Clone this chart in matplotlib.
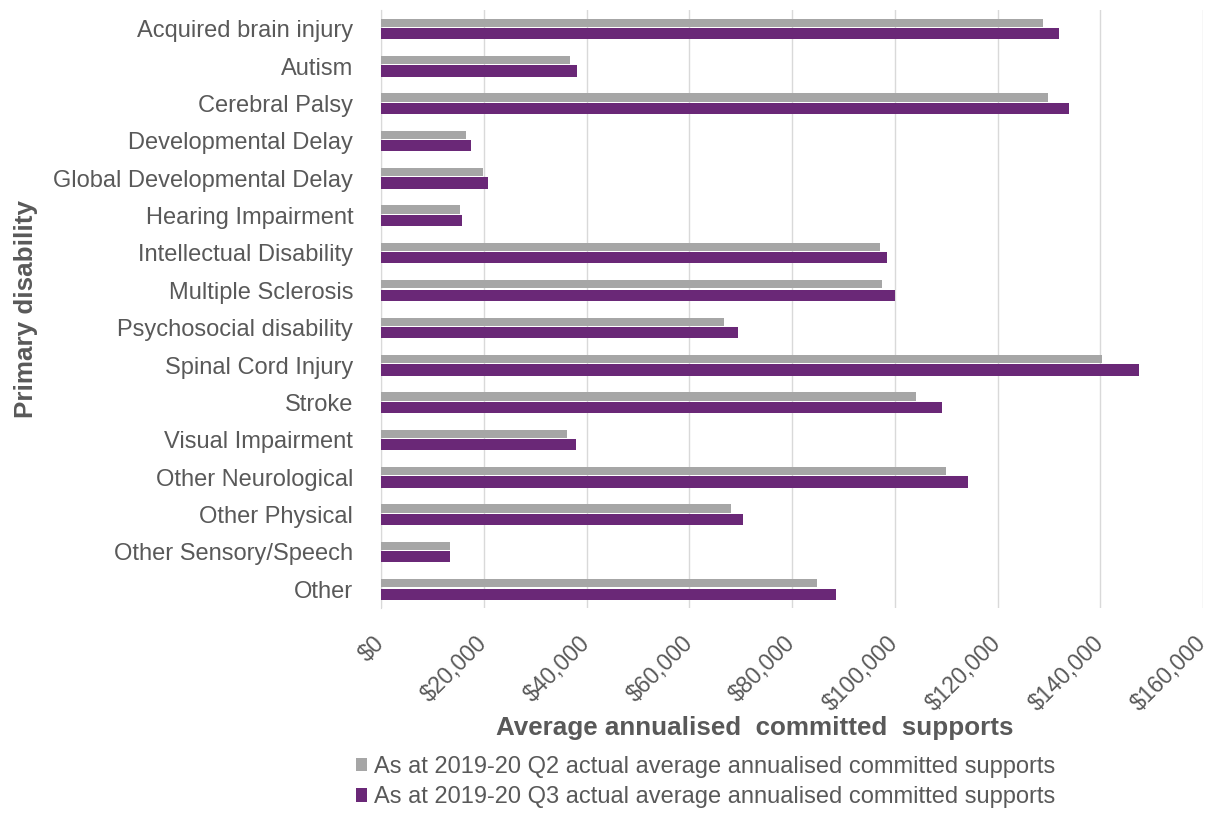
import matplotlib
matplotlib.use("Agg")
import matplotlib.pyplot as plt
import numpy as np
from matplotlib.ticker import FuncFormatter

categories = ["Acquired brain injury", "Autism", "Cerebral Palsy", "Developmental Delay",
              "Global Developmental Delay", "Hearing Impairment", "Intellectual Disability",
              "Multiple Sclerosis", "Psychosocial disability", "Spinal Cord Injury", "Stroke",
              "Visual Impairment", "Other Neurological", "Other Physical",
              "Other Sensory/Speech", "Other"]
q2_values = [128900, 36800, 129900, 16500, 19900, 15400, 97200, 97600, 66700, 140400,
             104200, 36200, 110000, 68100, 13400, 84900]
q3_values = [132000, 38200, 134000, 17500, 20800, 15800, 98500, 100100, 69500, 147500,
             109200, 38000, 114300, 70500, 13500, 88500]
series_labels = ["As at 2019-20 Q2 actual average annualised committed supports",
                 "As at 2019-20 Q3 actual average annualised committed supports"]
x_ticks = [0, 20000, 40000, 60000, 80000, 100000, 120000, 140000, 160000]

plt.rcParams['font.family'] = ['Liberation Sans', 'DejaVu Sans']
GRAY = '#A6A6A6'
PURPLE = '#6A2877'
TXT = '#595959'

fig = plt.figure(figsize=(12.1, 8.18), dpi=100)
ax = fig.add_axes([381/1210, 1-608/818, (1203-381)/1210, (608-10)/818])

y = np.arange(len(categories))
ax.barh(y - 0.16, q2_values, height=0.22, color=GRAY, label=series_labels[0], zorder=3)
ax.barh(y + 0.13, q3_values, height=0.30, color=PURPLE, label=series_labels[1], zorder=3)

ax.set_ylim(len(categories) - 0.5, -0.5)
ax.set_xlim(0, 160000)
ax.set_yticks(y)
ax.set_yticklabels(categories, fontsize=17, color=TXT)
ax.set_xticks(x_ticks)
ax.xaxis.set_major_formatter(FuncFormatter(lambda v, p: "${:,.0f}".format(v)))
for lab in ax.get_xticklabels():
    lab.set_rotation(45)
    lab.set_ha('right')
    lab.set_va('center')
    lab.set_rotation_mode('anchor')
    lab.set_fontsize(16.5)
    lab.set_color(TXT)
ax.tick_params(axis='both', length=0)
ax.tick_params(axis='y', pad=20)
ax.tick_params(axis='x', pad=23)
ax.grid(axis='x', color='#D9D9D9', linewidth=1, zorder=0)
for s in ['top', 'right', 'bottom']:
    ax.spines[s].set_visible(False)
ax.spines['left'].set_color('#D9D9D9')

fig.text(755/1210, 1-735/818, "Average annualised  committed  supports", fontsize=18.7,
         fontweight='bold', color=TXT, ha='center', va='baseline')
fig.text(26/1210, 1-309/818, "Primary disability", rotation=90, fontsize=18.7,
         fontweight='bold', color=TXT, ha='center', va='center')

handles, labels = ax.get_legend_handles_labels()
leg = fig.legend(handles, labels, loc='upper left', bbox_to_anchor=(356/1210, 1-756/818),
                 frameon=False, fontsize=17, handlelength=0.45, handleheight=0.5,
                 handletextpad=0.32, labelspacing=0.36, borderpad=0, borderaxespad=0)
for t in leg.get_texts():
    t.set_color(TXT)

fig.savefig("out.png", dpi=100, facecolor='white')
